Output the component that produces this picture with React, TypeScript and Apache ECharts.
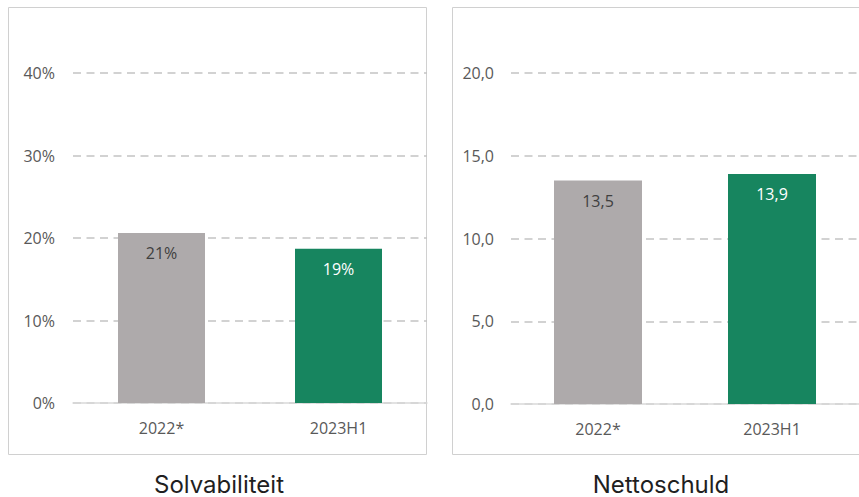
import React, { useEffect, useRef } from "react";
import * as echarts from "echarts";

const categories = ["2022*", "2023H1"];
const solvabiliteit = [20.6, 18.7];
const nettoschuld = [13.5, 13.9];
const barColors = ["#AEAAAB", "#17855F"];
const labelColors = ["#404040", "#FFFFFF"];
const titles = ["Solvabiliteit", "Nettoschuld"];

const TICK_FONT = "'Open Sans', sans-serif";

export default function App() {
  const ref = useRef<HTMLDivElement>(null);
  useEffect(() => {
    if (!ref.current) return;
    const chart = echarts.init(ref.current, null, { renderer: "svg" });
    const fmtComma = (v: number) => (Math.round(v * 10) / 10).toFixed(1).replace(".", ",");
    const yAxisCommon = {
      type: "value" as const,
      axisLine: { show: false },
      axisTick: { show: false },
      splitLine: {
        show: true,
        lineStyle: { color: "#c4c4c4", width: 1.5, type: [8, 5.5] as any },
      },
    };
    const xAxisCommon = {
      type: "category" as const,
      data: categories,
      axisLine: { show: true, lineStyle: { color: "#d9d9d9", width: 1.5 } },
      axisTick: { show: false },
      axisLabel: { color: "#595959", fontSize: 16, fontFamily: TICK_FONT, margin: 17 },
    };
    const mkData = (vals: number[]) =>
      vals.map((v, i) => ({
        value: v,
        itemStyle: { color: barColors[i] },
        label: { color: labelColors[i] },
      }));
    const titleStyle = {
      align: "center",
      verticalAlign: "middle",
      fontSize: 24,
      lineHeight: 24,
      fontFamily: "Inter, sans-serif",
      fill: "#1f1f1f",
    };
    chart.setOption({
      animation: false,
      grid: [
        { left: 73, top: 73, width: 354, height: 330 },
        { left: 511, top: 73, width: 355, height: 331 },
      ],
      xAxis: [
        { ...xAxisCommon, gridIndex: 0 },
        { ...xAxisCommon, gridIndex: 1 },
      ],
      yAxis: [
        {
          ...yAxisCommon,
          gridIndex: 0,
          min: 0,
          max: 40,
          interval: 10,
          axisLabel: {
            color: "#595959",
            fontSize: 16,
            fontFamily: TICK_FONT,
            margin: 18,
            formatter: (v: number) => `${v}%`,
          },
        },
        {
          ...yAxisCommon,
          gridIndex: 1,
          min: 0,
          max: 20,
          interval: 5,
          axisLabel: {
            color: "#595959",
            fontSize: 16,
            fontFamily: TICK_FONT,
            margin: 17,
            formatter: (v: number) => fmtComma(v),
          },
        },
      ],
      series: [
        {
          type: "bar",
          xAxisIndex: 0,
          yAxisIndex: 0,
          barWidth: 87,
          data: mkData(solvabiliteit),
          label: {
            show: true,
            position: "insideTop",
            distance: 12,
            fontSize: 16,
            fontFamily: TICK_FONT,
            formatter: (p: any) => `${Math.round(p.value)}%`,
          },
        },
        {
          type: "bar",
          xAxisIndex: 1,
          yAxisIndex: 1,
          barWidth: 88,
          data: mkData(nettoschuld),
          label: {
            show: true,
            position: "insideTop",
            distance: 12,
            fontSize: 16,
            fontFamily: TICK_FONT,
            formatter: (p: any) => fmtComma(p.value),
          },
        },
      ],
      graphic: [
        {
          type: "rect",
          shape: { x: 8.5, y: 7.5, width: 418, height: 447 },
          style: { fill: "none", stroke: "#d0d0d0", lineWidth: 1 },
          silent: true,
        },
        {
          type: "rect",
          shape: { x: 452.5, y: 7.5, width: 420, height: 447 },
          style: { fill: "none", stroke: "#d0d0d0", lineWidth: 1 },
          silent: true,
        },
        {
          type: "text",
          x: 219,
          y: 484,
          style: { ...titleStyle, text: titles[0] },
        },
        {
          type: "text",
          x: 661,
          y: 484,
          style: { ...titleStyle, text: titles[1] },
        },
      ],
    });
    return () => chart.dispose();
  }, []);
  return (
    <div
      ref={ref}
      style={{ position: "absolute", left: 0, top: 0, width: 859, height: 497 }}
    />
  );
}
